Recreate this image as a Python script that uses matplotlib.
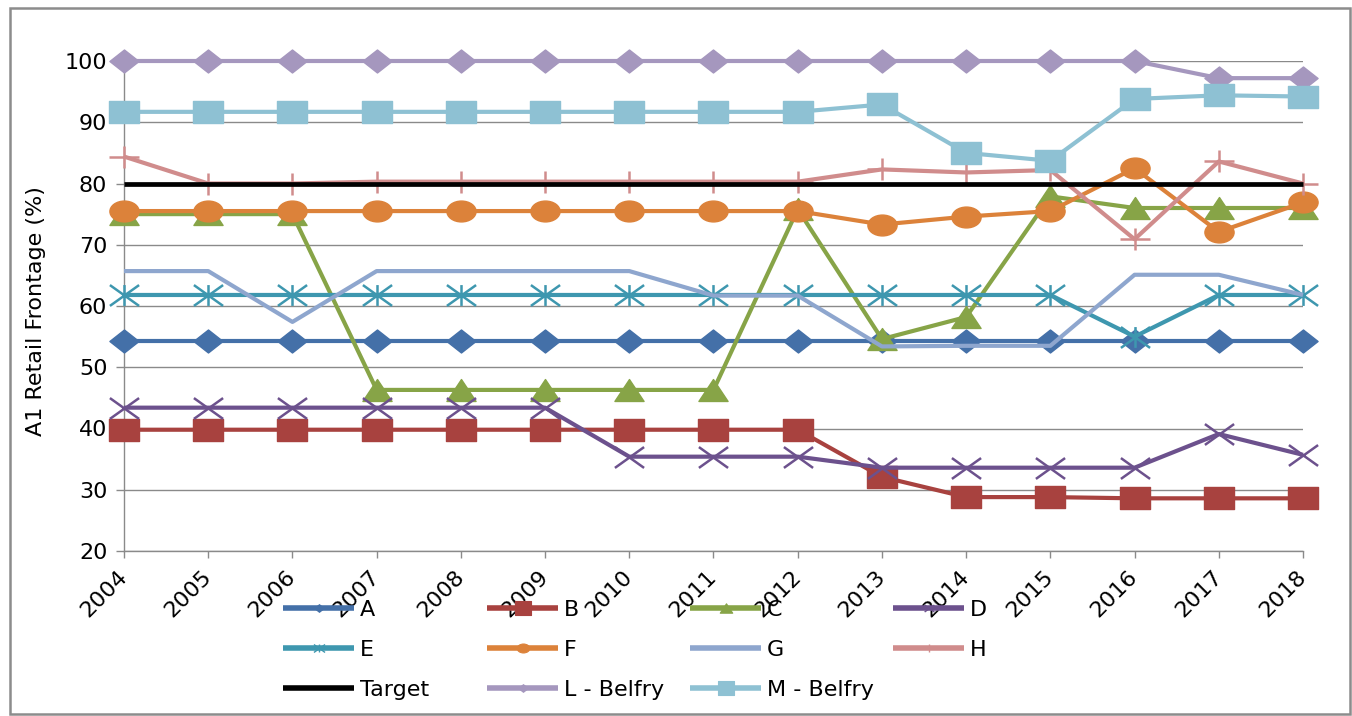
import numpy as np
import matplotlib
matplotlib.use("Agg")
import matplotlib.pyplot as plt
from matplotlib.path import Path
from matplotlib.lines import Line2D
from matplotlib.patches import Rectangle

# ---- data -------------------------------------------------------------
years = [2004, 2005, 2006, 2007, 2008, 2009, 2010, 2011, 2012,
         2013, 2014, 2015, 2016, 2017, 2018]

a_vals = [54.3, 54.3, 54.3, 54.3, 54.3, 54.3, 54.3, 54.3, 54.3,
          54.3, 54.3, 54.3, 54.3, 54.3, 54.3]
b_vals = [39.8, 39.8, 39.8, 39.8, 39.8, 39.8, 39.8, 39.8, 39.8,
          32.1, 28.8, 28.8, 28.6, 28.6, 28.6]
c_vals = [75.0, 75.0, 75.0, 46.3, 46.3, 46.3, 46.3, 46.3, 75.8,
          54.6, 58.2, 77.9, 76.0, 76.0, 76.0]
d_vals = [43.4, 43.4, 43.4, 43.4, 43.4, 43.4, 35.4, 35.4, 35.4,
          33.6, 33.6, 33.6, 33.6, 39.1, 35.7]
e_vals = [61.8, 61.8, 61.8, 61.8, 61.8, 61.8, 61.8, 61.8, 61.8,
          61.8, 61.8, 61.8, 55.0, 61.8, 61.8]
f_vals = [75.5, 75.5, 75.5, 75.5, 75.5, 75.5, 75.5, 75.5, 75.5,
          73.3, 74.6, 75.5, 82.5, 72.1, 76.9]
g_vals = [65.7, 65.7, 57.4, 65.7, 65.7, 65.7, 65.7, 61.7, 61.7,
          53.4, 53.5, 53.5, 65.1, 65.1, 61.8]
h_vals = [84.4, 80.0, 80.0, 80.3, 80.3, 80.3, 80.3, 80.3, 80.3,
          82.3, 81.8, 82.2, 70.9, 83.6, 80.0]
target_vals = [80, 80, 80, 80, 80, 80, 80, 80, 80,
               80, 80, 80, 80, 80, 80]
l_vals = [100, 100, 100, 100, 100, 100, 100, 100, 100,
          100, 100, 100, 100, 97.2, 97.2]
m_vals = [91.7, 91.7, 91.7, 91.7, 91.7, 91.7, 91.7, 91.7, 91.7,
          92.9, 85.0, 83.7, 93.8, 94.4, 94.2]

series_names = ["A", "B", "C", "D", "E", "F", "G", "H",
                "Target", "L - Belfry", "M - Belfry"]
series_values = [a_vals, b_vals, c_vals, d_vals, e_vals, f_vals, g_vals,
                 h_vals, target_vals, l_vals, m_vals]

y_ticks = [20, 30, 40, 50, 60, 70, 80, 90, 100]
y_label = "A1 Retail Frontage (%)"

# ---- wide marker shapes -----------------------------------------------
def closed(pts):
    pts = list(pts) + [pts[0]]
    codes = [Path.MOVETO] + [Path.LINETO] * (len(pts) - 2) + [Path.CLOSEPOLY]
    return Path(pts, codes)

def strokes(segs):
    verts, codes = [], []
    for p, q in segs:
        verts += [p, q]
        codes += [Path.MOVETO, Path.LINETO]
    return Path(verts, codes)

circ = Path.unit_circle()
mk_square = closed([(-1.27, -1), (1.27, -1), (1.27, 1), (-1.27, 1)])
mk_diamond = closed([(0, 1), (1.27, 0), (0, -1), (-1.27, 0)])
mk_triangle = closed([(0, 1), (1.33, -1), (-1.33, -1)])
mk_ellipse = Path(circ.vertices * np.array([1.4, 1.0]), circ.codes)
mk_cross = strokes([((-1.4, -1), (1.4, 1)), ((-1.4, 1), (1.4, -1))])
mk_star = strokes([((-1.4, -1), (1.4, 1)), ((-1.4, 1), (1.4, -1)),
                   ((0, -1), (0, 1))])
mk_plus = strokes([((-1.35, 0), (1.35, 0)), ((0, -1), (0, 1))])

styles = {
    "A": dict(color="#4470A8", marker=mk_diamond, ms=21, lg_ms=7, filled=True),
    "B": dict(color="#A8423F", marker=mk_square, ms=21, lg_ms=12, filled=True),
    "C": dict(color="#87A447", marker=mk_triangle, ms=21, lg_ms=9, filled=True),
    "D": dict(color="#6C518D", marker=mk_cross, ms=21, lg_ms=7, filled=False),
    "E": dict(color="#3E97AF", marker=mk_star, ms=21, lg_ms=8, filled=False),
    "F": dict(color="#DC823A", marker=mk_ellipse, ms=21, lg_ms=9, filled=True),
    "G": dict(color="#8EA6CE", marker=None, ms=0, lg_ms=0, filled=True),
    "H": dict(color="#D08C8C", marker=mk_plus, ms=21, lg_ms=8, filled=False),
    "Target": dict(color="#000000", marker=None, ms=0, lg_ms=0, filled=True),
    "L - Belfry": dict(color="#A597BE", marker=mk_diamond, ms=21, lg_ms=7,
                       filled=True),
    "M - Belfry": dict(color="#8EC1D3", marker=mk_square, ms=21, lg_ms=12,
                       filled=True),
}

# ---- figure -------------------------------------------------------------
W, H = 1352, 716
fig = plt.figure(figsize=(W / 100, H / 100), dpi=100)
fig.patch.set_facecolor("white")

# outer chart border
fig.add_artist(Rectangle((10 / W, 2 / H), 1340 / W, 706 / H,
                         transform=fig.transFigure, fill=False,
                         edgecolor="#8C8C8C", linewidth=1.8))

ax = fig.add_axes([124 / W, 1 - 551 / H, (1303 - 124) / W, (551 - 61) / H])
ax.set_xlim(years[0], years[-1])
ax.set_ylim(y_ticks[0], y_ticks[-1])

grid_c = "#8A8A8A"
ax.set_yticks(y_ticks)
ax.set_xticks(years)
ax.yaxis.grid(True, color=grid_c, linewidth=1.0)
ax.set_axisbelow(True)
for side in ("top", "right"):
    ax.spines[side].set_visible(False)
for side in ("left", "bottom"):
    ax.spines[side].set_color(grid_c)
    ax.spines[side].set_linewidth(1.0)

ax.tick_params(axis="y", direction="out", length=6, width=1.0, color=grid_c,
               pad=6, labelsize=16, labelcolor="black")
ax.tick_params(axis="x", direction="out", length=5, width=1.0, color=grid_c,
               pad=11, labelsize=16, labelcolor="black")
for lbl in ax.get_xticklabels():
    lbl.set_rotation(45)
    lbl.set_ha("right")
    lbl.set_va("center")
    lbl.set_rotation_mode("anchor")

ax.set_ylabel(y_label, fontsize=16, labelpad=12)
ax.yaxis.set_label_coords(-0.066, 0.49)

handles = []
for z, (name, vals) in enumerate(zip(series_names, series_values)):
    st = styles[name]
    lw = 3.4 if name == "Target" else 3.0
    kw = dict(color=st["color"], linewidth=lw, solid_joinstyle="round",
              solid_capstyle="butt", zorder=3 + z * 0.01)
    if st["marker"] is not None:
        kw.update(marker=st["marker"], markersize=st["ms"],
                  markerfacecolor=st["color"] if st["filled"] else "none",
                  markeredgecolor=st["color"],
                  markeredgewidth=1.0 if st["filled"] else 1.8)
    ax.plot(years, vals, clip_on=False, **kw)

    hk = dict(color=st["color"], linewidth=4.0, solid_capstyle="butt")
    if st["marker"] is not None:
        hk.update(marker=st["marker"], markersize=st["lg_ms"],
                  markerfacecolor=st["color"] if st["filled"] else "none",
                  markeredgecolor=st["color"],
                  markeredgewidth=0.8 if st["filled"] else 1.0)
    handles.append(Line2D([], [], label=name, **hk))

# legend laid out as a 4-column grid filled row by row
col_x = [283, 487, 690, 893]
for c in range(4):
    col_handles = handles[c::4]
    fig.legend(handles=col_handles, loc="upper left",
               bbox_to_anchor=(col_x[c] / W, 1 - 600 / H),
               frameon=False, fontsize=16, borderpad=0, borderaxespad=0,
               handlelength=3.2, handletextpad=0.25, labelspacing=0.9)

fig.savefig("out.png", dpi=100, facecolor="white")
